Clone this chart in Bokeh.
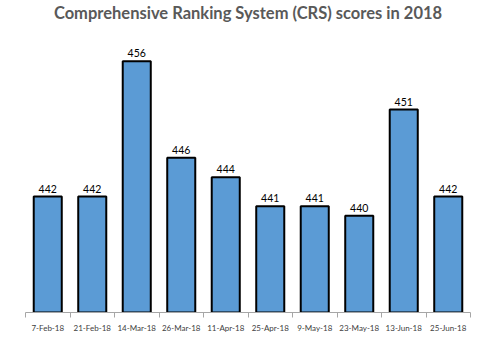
from bokeh.plotting import figure
from bokeh.models import ColumnDataSource, FixedTicker, Range1d
from bokeh.embed import file_html
from bokeh.resources import INLINE
from bokeh.core.properties import value

dates = ["7-Feb-18", "21-Feb-18", "14-Mar-18", "26-Mar-18", "11-Apr-18",
         "25-Apr-18", "9-May-18", "23-May-18", "13-Jun-18", "25-Jun-18"]
scores = [442, 442, 456, 446, 444, 441, 441, 440, 451, 442]

xs = [i + 0.5 for i in range(len(dates))]
src = ColumnDataSource(dict(x=xs, top=scores, label=[str(s) for s in scores]))

p = figure(width=481, height=351, output_backend="svg", toolbar_location=None,
           x_range=Range1d(0, len(dates)), y_range=Range1d(430, 460),
           min_border_left=25, min_border_right=11, min_border_bottom=39, min_border_top=0)
p.title.text = "Comprehensive Ranking System (CRS) scores in 2018"
p.title.align = "center"
p.title.text_font = "Lato"
p.title.text_font_size = "16.5px"
p.title.text_color = "#595959"
p.title.text_font_style = "bold"
p.title.offset = 0
p.title.standoff = 0

p.vbar(x="x", top="top", bottom=430, width=0.63, source=src,
       fill_color="#5B9BD5", line_color="black", line_width=2)
p.text(x="x", y="top", text="label", source=src, text_align="center",
       text_baseline="bottom", y_offset=-4, text_font=value("Lato"),
       text_font_size="10.5px", text_color="black")

p.yaxis.visible = False
p.xgrid.visible = False
p.ygrid.visible = False
p.outline_line_color = None

ax = p.xaxis[0]
ax.ticker = FixedTicker(ticks=xs, minor_ticks=list(range(len(dates) + 1)))
ax.major_label_overrides = {x: d for x, d in zip(xs, dates)}
ax.major_tick_line_color = None
ax.minor_tick_in = 0
ax.minor_tick_out = 5
ax.minor_tick_line_color = "#a6a6a6"
ax.axis_line_color = "#a6a6a6"
ax.major_label_text_font = "Lato"
ax.major_label_text_font_size = "8px"
ax.major_label_text_color = "#404040"
ax.major_label_standoff = 4

open("out.html", "w").write(file_html(p, INLINE))
